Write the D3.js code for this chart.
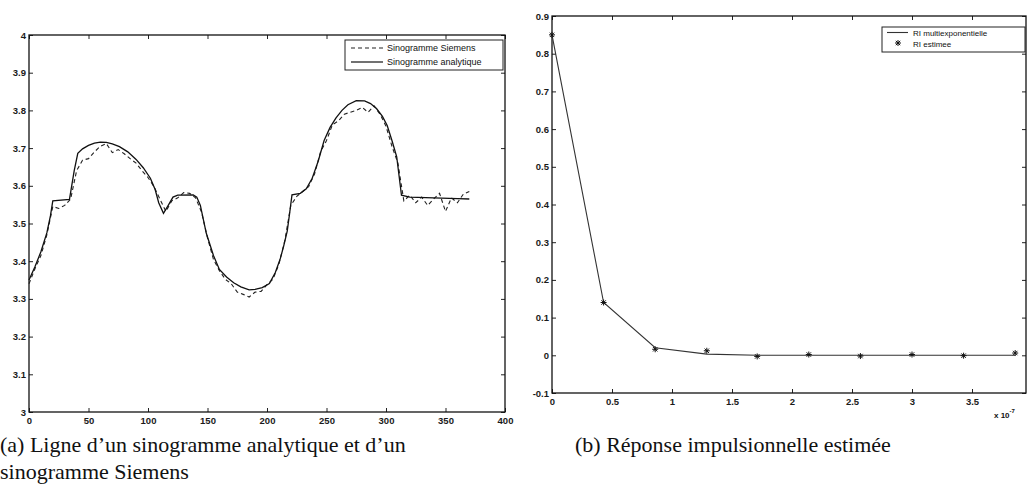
<!DOCTYPE html>
<html>
<head>
<meta charset="utf-8">
<script src="https://cdn.jsdelivr.net/npm/d3@7/dist/d3.min.js"></script>
<style>
  html, body { margin: 0; padding: 0; background: #fff; }
  svg { display: block; }
  .tick text { font-family: "Liberation Sans", Arial, sans-serif; font-weight: bold; font-size: 9.5px; fill: #1a1a1a; }
  .caption { font-family: "Liberation Serif", "Times New Roman", serif; font-size: 22px; fill: #111; }
  .legend text { font-family: "Liberation Sans", Arial, sans-serif; font-size: 9px; fill: #111; }
</style>
</head>
<body>
<svg id="fig" width="1028" height="498"></svg>
<script>
// ---- Panel (a): one row of the sinogram ----
const analyticX = [0, 5, 10, 15, 18, 20, 34, 38, 41, 45, 50, 55, 60, 65, 70, 76, 83, 90, 96, 102, 106, 109, 113, 117, 121, 125, 138, 141, 144, 149, 155, 160, 166, 172, 178, 185, 190, 196, 202, 207, 211, 214, 217, 219, 221, 228, 233, 238, 243, 248, 253, 258, 263, 268, 275, 282, 287, 292, 297, 301, 305, 309, 313, 320, 340, 360, 370];
const analyticY = [3.350, 3.385, 3.425, 3.475, 3.520, 3.560, 3.564, 3.640, 3.686, 3.698, 3.707, 3.713, 3.716, 3.715, 3.711, 3.704, 3.690, 3.670, 3.648, 3.620, 3.590, 3.555, 3.527, 3.548, 3.570, 3.575, 3.576, 3.570, 3.548, 3.474, 3.415, 3.378, 3.358, 3.343, 3.332, 3.324, 3.325, 3.330, 3.341, 3.370, 3.405, 3.440, 3.480, 3.527, 3.576, 3.580, 3.592, 3.620, 3.665, 3.720, 3.755, 3.780, 3.800, 3.815, 3.826, 3.825, 3.818, 3.805, 3.784, 3.760, 3.720, 3.677, 3.575, 3.570, 3.568, 3.566, 3.565];

const siemensX = d3.range(0, 371, 5);
const siemensY = [3.340, 3.380, 3.415, 3.470, 3.545, 3.540, 3.548, 3.565, 3.640, 3.668,
                  3.672, 3.690, 3.705, 3.712, 3.688, 3.696, 3.685, 3.672, 3.660, 3.640,
                  3.622, 3.598, 3.565, 3.532, 3.560, 3.568, 3.582, 3.580, 3.568, 3.530,
                  3.462, 3.405, 3.375, 3.352, 3.340, 3.318, 3.312, 3.305, 3.318, 3.320,
                  3.338, 3.352, 3.392, 3.455, 3.548, 3.572, 3.585, 3.598, 3.632, 3.690,
                  3.720, 3.762, 3.772, 3.790, 3.795, 3.800, 3.808, 3.795, 3.812, 3.790,
                  3.758, 3.705, 3.660, 3.560, 3.575, 3.555, 3.570, 3.548, 3.565, 3.580,
                  3.532, 3.568, 3.555, 3.578, 3.585];

const aXTicks = d3.range(0, 401, 50);
const aYTicks = [3, 3.1, 3.2, 3.3, 3.4, 3.5, 3.6, 3.7, 3.8, 3.9, 4];
const aLegend = ["Sinogramme Siemens", "Sinogramme analytique"];

// ---- Panel (b): estimated impulse response ----
const riX = [0, 0.43, 0.86, 1.29, 1.71, 2.14, 2.57, 3.0, 3.43, 3.86];
const riMulti = [0.85, 0.14, 0.020, 0.003, 0.000, 0.000, 0.000, 0.000, 0.000, 0.000];
const riEstimee = [0.85, 0.14, 0.016, 0.012, -0.003, 0.002, -0.002, 0.002, -0.001, 0.006];

const bXTicks = [0, 0.5, 1, 1.5, 2, 2.5, 3, 3.5];
const bYTicks = [-0.1, 0, 0.1, 0.2, 0.3, 0.4, 0.5, 0.6, 0.7, 0.8, 0.9];
const bLegend = ["RI multiexponentielle", "RI estimee"];

const captionA = ["(a) Ligne d\u2019un sinogramme analytique et d\u2019un", "sinogramme Siemens"];
const captionB = "(b) R\u00e9ponse impulsionnelle estim\u00e9e";

const svg = d3.select("#fig");
const fmt = d => String(+d.toFixed(2));

function frame(g, x, y, xTicks, yTicks) {
  const [x0, x1] = x.range(), [y0, y1] = y.range();
  g.append("g").attr("transform", `translate(0,${y0})`)
    .call(d3.axisBottom(x).tickValues(xTicks).tickFormat(fmt).tickSizeInner(-4).tickSizeOuter(0).tickPadding(5));
  g.append("g").attr("transform", `translate(${x0},0)`)
    .call(d3.axisLeft(y).tickValues(yTicks).tickFormat(fmt).tickSizeInner(-4).tickSizeOuter(0).tickPadding(3));
  g.append("g").attr("transform", `translate(0,${y1})`)
    .call(d3.axisTop(x).tickValues(xTicks).tickFormat("").tickSizeInner(-4).tickSizeOuter(0));
  g.append("g").attr("transform", `translate(${x1},0)`)
    .call(d3.axisRight(y).tickValues(yTicks).tickFormat("").tickSizeInner(-4).tickSizeOuter(0));
  g.selectAll(".domain").remove();
  g.selectAll(".tick line").attr("stroke", "#222").attr("stroke-width", 1);
  g.append("rect").attr("x", x0).attr("y", y1).attr("width", x1 - x0).attr("height", y0 - y1)
    .attr("fill", "none").attr("stroke", "#111").attr("stroke-width", 1.3);
}

// Panel (a)
{
  const xA = d3.scaleLinear().domain([0, 400]).range([29, 505]);
  const yA = d3.scaleLinear().domain([3, 4]).range([412, 35]);
  const g = svg.append("g");
  frame(g, xA, yA, aXTicks, aYTicks);

  const line = d3.line().x(d => xA(d[0])).y(d => yA(d[1]));
  g.append("path").datum(d3.zip(siemensX, siemensY))
    .attr("d", line).attr("fill", "none").attr("stroke", "#222")
    .attr("stroke-width", 1.1).attr("stroke-dasharray", "4,3");
  g.append("path").datum(d3.zip(analyticX, analyticY))
    .attr("d", line).attr("fill", "none").attr("stroke", "#111").attr("stroke-width", 1.3);

  const lg = g.append("g").attr("class", "legend");
  lg.append("rect").attr("x", 345).attr("y", 40).attr("width", 158).attr("height", 30)
    .attr("fill", "#fff").attr("stroke", "#222").attr("stroke-width", 1);
  lg.append("line").attr("x1", 351).attr("x2", 383).attr("y1", 48).attr("y2", 48)
    .attr("stroke", "#222").attr("stroke-width", 1.1).attr("stroke-dasharray", "4,3");
  lg.append("line").attr("x1", 351).attr("x2", 383).attr("y1", 62).attr("y2", 62)
    .attr("stroke", "#111").attr("stroke-width", 1.2);
  lg.selectAll("text").data(aLegend).join("text")
    .attr("x", 387).attr("y", (d, i) => 51 + i * 14).text(d => d);
}

// Panel (b)
{
  const xB = d3.scaleLinear().domain([0, 3.95]).range([552, 1026]);
  const yB = d3.scaleLinear().domain([-0.1, 0.9]).range([393, 16]);
  const g = svg.append("g");
  frame(g, xB, yB, bXTicks, bYTicks);

  const line = d3.line().x(d => xB(d[0])).y(d => yB(d[1]));
  g.append("path").datum(d3.zip(riX, riMulti))
    .attr("d", line).attr("fill", "none").attr("stroke", "#333").attr("stroke-width", 1.1);

  const star = d3.symbol().type(d3.symbolAsterisk || d3.symbolCross).size(22);
  const asterisk = "M-3,0H3M0,-3V3M-2.2,-2.2L2.2,2.2M-2.2,2.2L2.2,-2.2";
  g.selectAll(".est").data(d3.zip(riX, riEstimee)).join("path")
    .attr("class", "est")
    .attr("transform", d => `translate(${xB(d[0])},${yB(d[1])})`)
    .attr("d", asterisk).attr("fill", "none").attr("stroke", "#111").attr("stroke-width", 1);

  // exponent note under the x axis
  const ex = g.append("text").attr("x", 994).attr("y", 418)
    .style("font-family", "Liberation Sans, Arial, sans-serif").style("font-weight", "bold").style("font-size", "8px").attr("fill", "#111");
  ex.append("tspan").text("x 10");
  ex.append("tspan").attr("dy", -5).style("font-size", "6px").text("-7");

  const lg = g.append("g").attr("class", "legend");
  lg.append("rect").attr("x", 882).attr("y", 27).attr("width", 143).attr("height", 25)
    .attr("fill", "#fff").attr("stroke", "#222").attr("stroke-width", 1);
  lg.append("line").attr("x1", 887).attr("x2", 908).attr("y1", 32.5).attr("y2", 32.5)
    .attr("stroke", "#333").attr("stroke-width", 1.1);
  lg.append("path").attr("transform", "translate(898,43)").attr("d", asterisk)
    .attr("fill", "none").attr("stroke", "#111").attr("stroke-width", 1);
  lg.selectAll("text").data(bLegend).join("text")
    .attr("x", 913).attr("y", (d, i) => 36 + i * 11).style("font-size", "8px").text(d => d);
}

// Captions
svg.selectAll(".capA").data(captionA).join("text").attr("class", "caption")
  .attr("x", 0).attr("y", (d, i) => 452 + i * 27).text(d => d);
svg.append("text").attr("class", "caption").attr("x", 575).attr("y", 452).text(captionB);
</script>
</body>
</html>
